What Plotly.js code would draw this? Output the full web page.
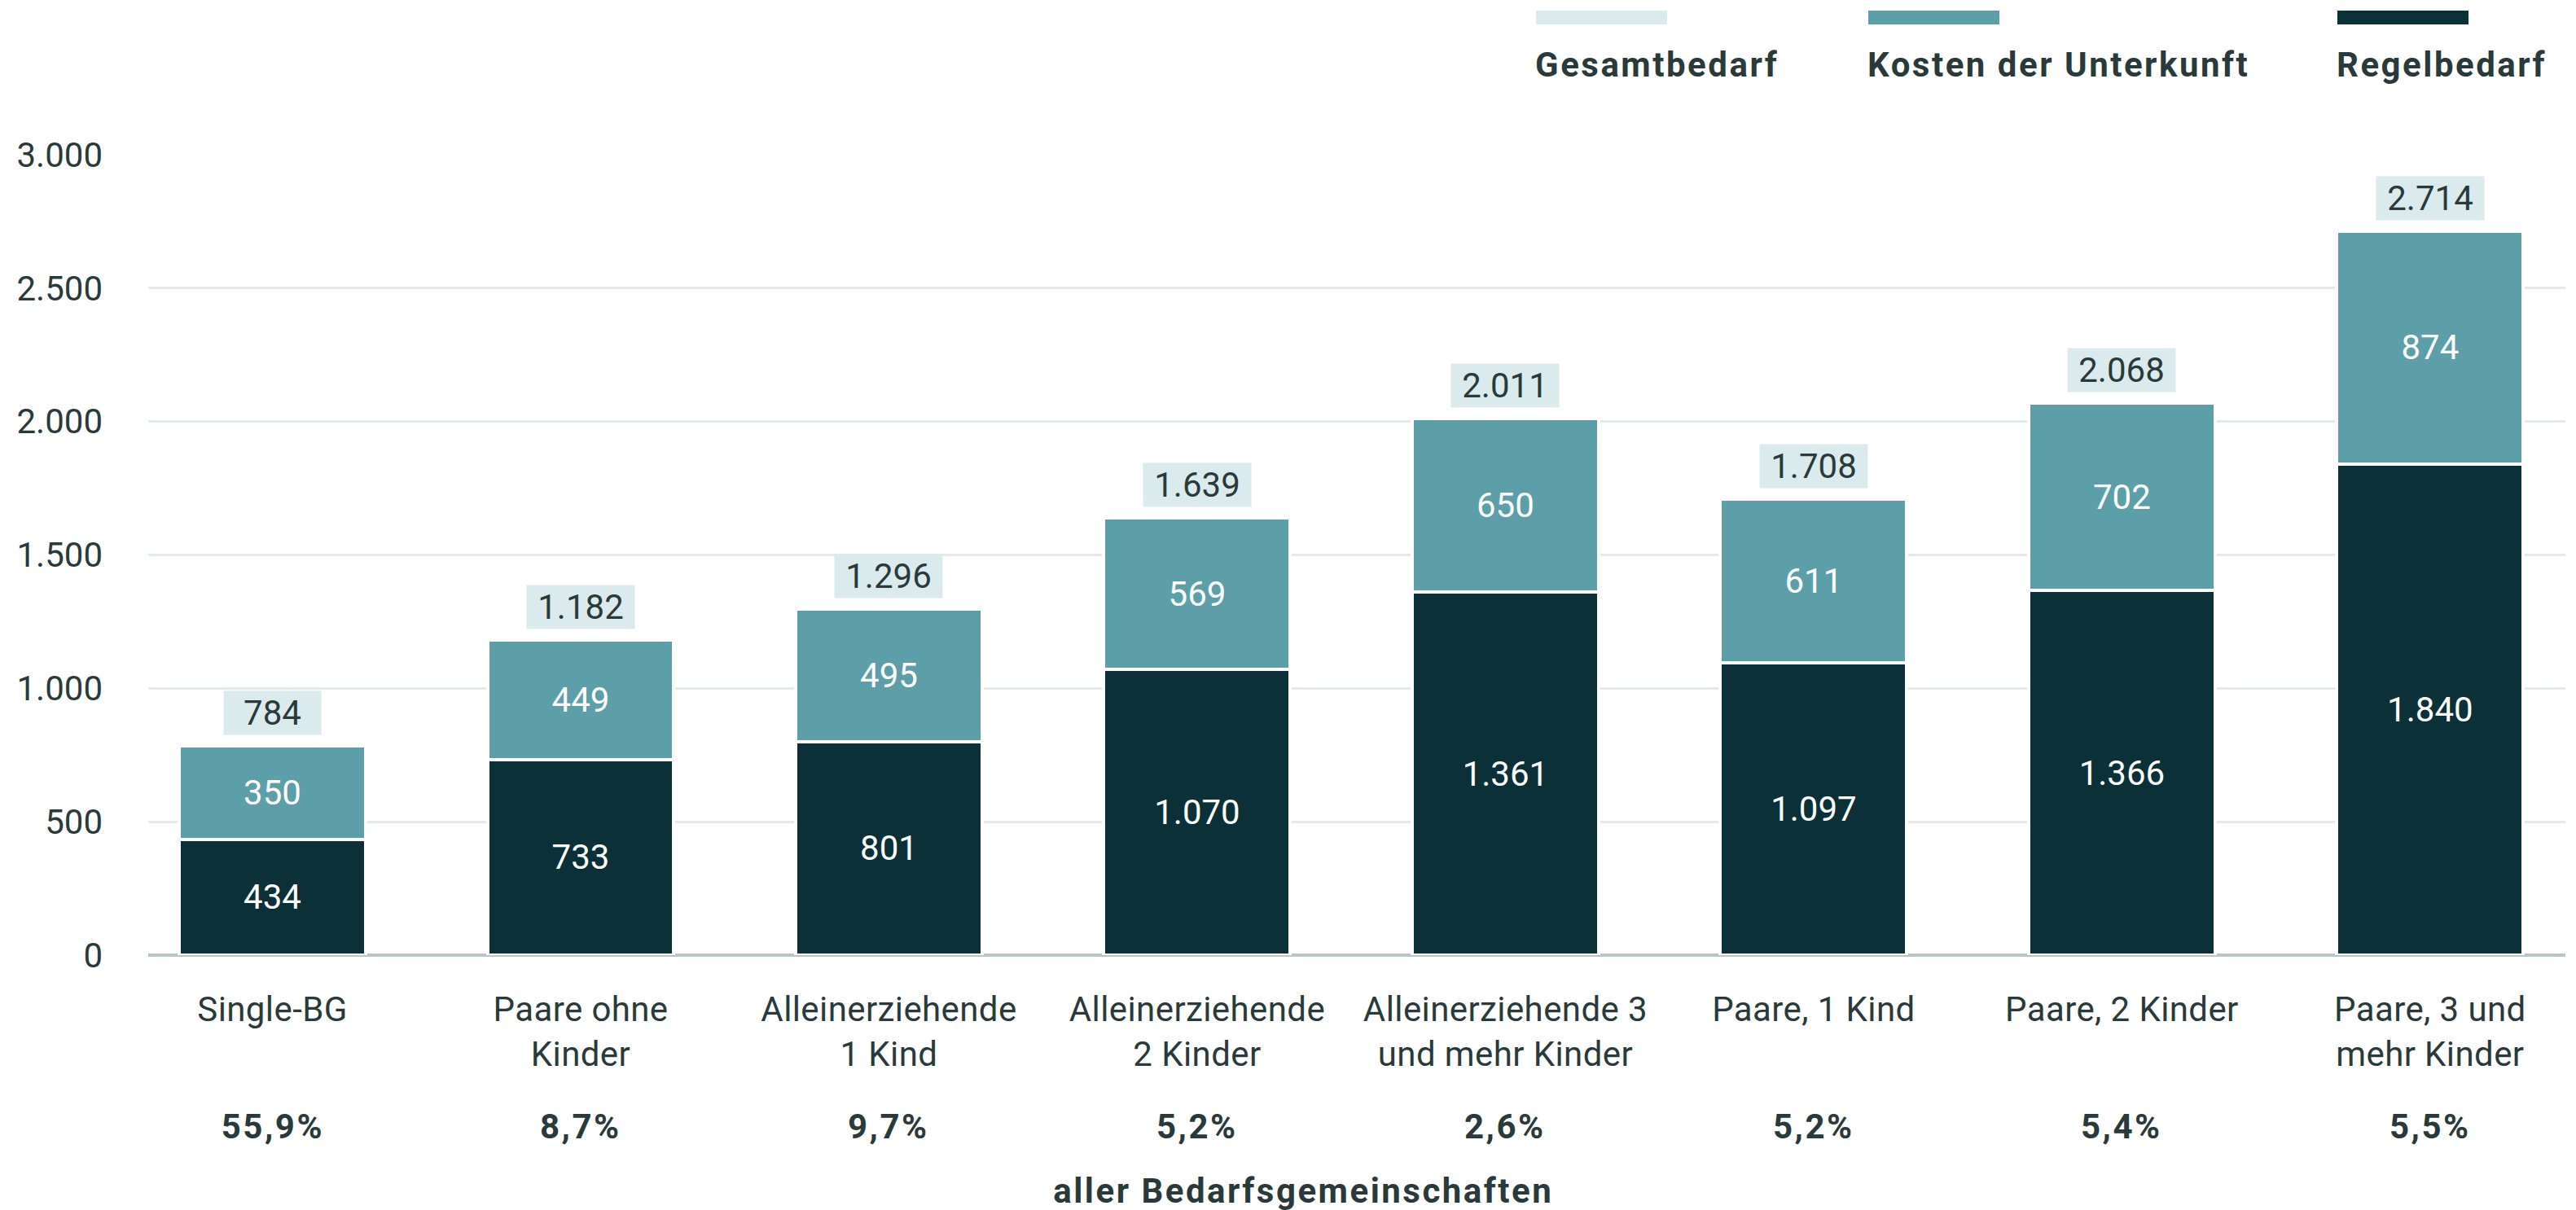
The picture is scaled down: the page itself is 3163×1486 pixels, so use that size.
<!DOCTYPE html>
<html>
<head>
<meta charset="utf-8">
<script src="https://cdn.plot.ly/plotly-3.0.1.min.js"></script>
<style>
  html, body { margin: 0; padding: 0; background: #ffffff; }
  #chart { width: 3163px; height: 1486px; }
</style>
</head>
<body>
<div id="chart"></div>
<script>
// ---- data ----
var categories = [
  "Single-BG",
  "Paare ohne<br>Kinder",
  "Alleinerziehende<br>1 Kind",
  "Alleinerziehende<br>2 Kinder",
  "Alleinerziehende 3<br>und mehr Kinder",
  "Paare, 1 Kind",
  "Paare, 2 Kinder",
  "Paare, 3 und<br>mehr Kinder"
];
var regelbedarf = [434, 733, 801, 1070, 1361, 1097, 1366, 1840];
var kostenUnterkunft = [350, 449, 495, 569, 650, 611, 702, 874];
var gesamtbedarf = [784, 1182, 1296, 1639, 2011, 1708, 2068, 2714];
var anteil = [55.9, 8.7, 9.7, 5.2, 2.6, 5.2, 5.4, 5.5];
var anteilLabel = "aller Bedarfsgemeinschaften";
var seriesNames = ["Gesamtbedarf", "Kosten der Unterkunft", "Regelbedarf"];

// ---- style ----
var C_DARK = "#0b3037";
var C_TEAL = "#5c9fa8";
var C_LIGHT = "#dbeaed";
var C_TEXT = "#2a3a3a";
var FONT = "Roboto, 'Open Sans', sans-serif";
var FS = 42;

var W = 3163, H = 1486;
var ML = 182, MR = 13, MT = 190, MB = 313;
var PW = W - ML - MR, PH = H - MT - MB;
function px(x) { return (x - ML) / PW; }
function py(y) { return (H - MB - y) / PH; }

function fmtDE(n) {
  return String(n).replace(/\B(?=(\d{3})+(?!\d))/g, ".");
}
function fmtPct(v) {
  return v.toFixed(1).replace(".", ",") + "%";
}

var traces = [
  {
    type: "bar",
    name: seriesNames[2],
    x: categories,
    y: regelbedarf,
    marker: { color: C_DARK, line: { color: "#ffffff", width: 4 } },
    texttemplate: "%{y:,}",
    textposition: "inside",
    insidetextanchor: "middle",
    textangle: 0,
    constraintext: "none",
    textfont: { family: FONT, size: FS, color: "#ffffff" },
    hoverinfo: "skip",
    width: 0.605
  },
  {
    type: "bar",
    name: seriesNames[1],
    x: categories,
    y: kostenUnterkunft,
    marker: { color: C_TEAL, line: { color: "#ffffff", width: 4 } },
    texttemplate: "%{y:,}",
    textposition: "inside",
    insidetextanchor: "middle",
    textangle: 0,
    constraintext: "none",
    textfont: { family: FONT, size: FS, color: "#ffffff" },
    hoverinfo: "skip",
    width: 0.605
  }
];

var annotations = [];
var shapes = [];

// total labels
for (var i = 0; i < categories.length; i++) {
  var txt = fmtDE(gesamtbedarf[i]);
  annotations.push({
    x: categories[i], y: gesamtbedarf[i], xref: "x", yref: "y",
    text: txt, showarrow: false,
    yanchor: "bottom", xanchor: "center", yshift: 13,
    bgcolor: C_LIGHT, borderpad: 2,
    width: txt.length > 3 ? 128 : 115,
    font: { family: FONT, size: FS, color: C_TEXT }
  });
  annotations.push({
    x: categories[i], y: py(1383), xref: "x", yref: "paper",
    text: fmtPct(anteil[i]), showarrow: false,
    yanchor: "middle", xanchor: "center",
    font: { family: FONT, size: FS, color: C_TEXT, weight: 700 }
  });
}
annotations.push({
  x: px(1600), y: py(1462), xref: "paper", yref: "paper",
  text: anteilLabel, showarrow: false, xanchor: "center", yanchor: "middle",
  font: { family: FONT, size: FS, color: C_TEXT, weight: 700 }
});

// custom legend: swatch above bold label
var legendX = [1886, 2294, 2870];
var legendColors = [C_LIGHT, C_TEAL, C_DARK];
for (var k = 0; k < 3; k++) {
  shapes.push({
    type: "rect", xref: "paper", yref: "paper",
    x0: px(legendX[k]), x1: px(legendX[k] + 161),
    y0: py(30), y1: py(13),
    fillcolor: legendColors[k], line: { width: 0 }
  });
  annotations.push({
    x: px(legendX[k] - 3), y: py(80), xref: "paper", yref: "paper",
    text: seriesNames[k], showarrow: false, xanchor: "left", yanchor: "middle",
    align: "left",
    font: { family: FONT, size: FS, color: C_TEXT, weight: 700 }
  });
}

var layout = {
  width: W, height: H,
  margin: { l: ML, r: MR, t: MT, b: MB, pad: 0 },
  paper_bgcolor: "#ffffff",
  plot_bgcolor: "#ffffff",
  barmode: "stack",
  showlegend: false,
  separators: ",.",
  font: { family: FONT, size: FS, color: C_TEXT },
  xaxis: {
    type: "category",
    range: [-0.403, 7.439],
    showgrid: false,
    zeroline: false,
    showline: false,
    ticks: "",
    ticklabelstandoff: 38,
    tickfont: { family: FONT, size: FS, color: C_TEXT },
    fixedrange: true
  },
  yaxis: {
    range: [0, 3000],
    dtick: 500,
    tick0: 0,
    separatethousands: true,
    showgrid: true,
    gridcolor: "#e4e9e9",
    gridwidth: 3,
    zeroline: true,
    zerolinecolor: "#b7c5c5",
    zerolinewidth: 4,
    showline: false,
    ticks: "",
    ticklabelstandoff: 55,
    tickfont: { family: FONT, size: FS, color: C_TEXT },
    fixedrange: true
  },
  annotations: annotations,
  shapes: shapes
};

Plotly.newPlot("chart", traces, layout, { displayModeBar: false, staticPlot: true }).then(function (gd) {
  // bold labels in the reference are set with slight tracking
  var texts = gd.querySelectorAll(".annotation-text");
  texts.forEach(function (t) {
    var fw = t.style.fontWeight;
    if (fw === "700" || fw === "bold") {
      t.style.letterSpacing = "2.5px";
    }
  });
  var xt = gd.querySelectorAll(".xtick text");
  xt.forEach(function (t) { t.style.letterSpacing = "0.4px"; });
});
</script>
</body>
</html>
